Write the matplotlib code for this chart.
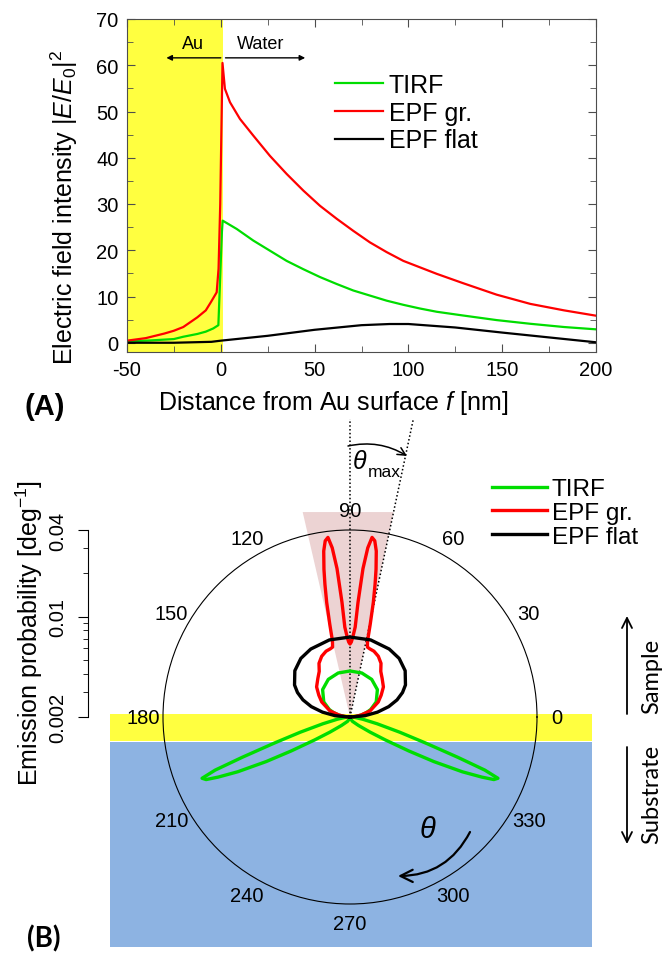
import numpy as np
import matplotlib
matplotlib.use('Agg')
import matplotlib.pyplot as plt
from matplotlib.patches import Rectangle, Polygon
from matplotlib.lines import Line2D
from matplotlib.ticker import (MultipleLocator, LogLocator, NullLocator,
                               NullFormatter, FixedLocator, FixedFormatter)

plt.rcParams['font.family'] = ['Liberation Sans', 'DejaVu Sans']
plt.rcParams['mathtext.fontset'] = 'custom'
plt.rcParams['mathtext.rm'] = 'Liberation Sans'
plt.rcParams['mathtext.it'] = 'Liberation Sans:italic'
plt.rcParams['mathtext.bf'] = 'Liberation Sans:bold'
plt.rcParams['axes.unicode_minus'] = False

# ---- (A) field intensity vs distance from the Au surface [nm]
tirf_x = [-50, -37.5, -25, -20, -12.5, -8, -4, -1.3, 0.6, 1.0, 8.5, 17.3,
          26.2, 35.1, 44, 52.9, 61.8, 70.6, 79.5, 88.4, 97.3, 106.2, 115.1,
          129, 147, 165, 183, 200]
tirf_y = [0.3, 0.5, 0.8, 1.3, 1.9, 2.4, 3.1, 3.8, 24.0, 26.4, 24.6, 22.1,
          19.9, 17.7, 15.9, 14.2, 12.7, 11.3, 10.2, 9.1, 8.2, 7.4, 6.7,
          5.9, 4.9, 4.1, 3.4, 2.9]

epfgr_x = [-50, -40, -30, -25, -20, -12.5, -8, -5.4, -2.2, -1.2, -0.3, 0.9,
           2.2, 4.9, 10.2, 17.3, 26.2, 35.1, 44, 52.9, 61.8, 70.6, 79.5,
           88.4, 97.3, 106.2, 115.1, 129, 147, 165, 183, 200]
epfgr_y = [0.45, 1.0, 2.0, 2.6, 3.4, 5.5, 7.0, 8.7, 10.9, 16.0, 30.0, 60.5,
           54.9, 52.0, 48.4, 44.8, 40.4, 36.5, 32.9, 29.6, 26.8, 24.2, 21.7,
           19.6, 17.7, 16.3, 14.9, 12.9, 10.4, 8.4, 7.0, 5.85]

epfflat_x = [-50, -25, -5, 0, 25, 50, 75, 90, 100, 125, 150, 175, 200]
epfflat_y = [0.0, 0.0, 0.2, 0.45, 1.5, 2.8, 3.8, 4.05, 4.05, 3.3, 2.2, 1.15, 0.1]

# ---- (B) angular emission probability [deg^-1], theta in degrees
tirf_th = [0, 5, 10, 15, 20, 30, 45, 60, 75, 90, 105, 120, 135, 150, 160,
           165, 170, 175, 180,
           185, 190, 194, 197, 199, 200.5, 201.5, 202.5, 203.5, 204.5, 206,
           208, 210, 213, 217, 225, 240, 255, 270,
           285, 300, 315, 323, 327, 330, 332, 334, 335.5, 336.5, 337.5,
           338.5, 339.5, 341, 343, 346, 350, 355, 360]
tirf_r = [0.00200, 0.00220, 0.00241, 0.00263, 0.00285, 0.00325, 0.00372,
          0.00401, 0.00415, 0.00418, 0.00415, 0.00401, 0.00372, 0.00325,
          0.00285, 0.00263, 0.00241, 0.00220, 0.00200,
          0.00217, 0.00246, 0.00313, 0.00460, 0.00720, 0.01262, 0.0204,
          0.0260, 0.0247, 0.0204, 0.01481, 0.00916, 0.00594, 0.00392,
          0.00299, 0.00242, 0.00217, 0.00206, 0.00200,
          0.00206, 0.00217, 0.00242, 0.00299, 0.00392, 0.00594, 0.00916,
          0.01481, 0.0204, 0.0247, 0.0260, 0.0204, 0.01262, 0.00720,
          0.00460, 0.00313, 0.00246, 0.00217, 0.00200]

epfgr_th = [0, 5, 10, 17, 28, 35, 42, 50, 56, 60, 65, 70, 74, 76, 77, 77.7,
            78.5, 79.3, 80, 81, 82, 83, 84, 85, 86, 86.7, 88, 89, 90,
            91, 92, 93.3, 94, 95, 96, 97, 98, 99, 100, 100.7, 101.5, 102.3,
            103, 104, 106, 110, 115, 120, 124, 130, 138, 145, 152, 163, 170,
            175, 180]
epfgr_r = [0.00200, 0.00217, 0.00239, 0.00280, 0.00334, 0.00368, 0.00411,
           0.00446, 0.00483, 0.00540, 0.00585, 0.00614, 0.00624, 0.00634,
           0.00698, 0.00916, 0.01303, 0.01739, 0.0221, 0.0295, 0.0346,
           0.0363, 0.0305, 0.02176, 0.01262, 0.00846, 0.00720, 0.00665,
           0.00644,
           0.00665, 0.00720, 0.00846, 0.01262, 0.02176, 0.0305, 0.0363,
           0.0346, 0.0295, 0.0221, 0.01739, 0.01303, 0.00916, 0.00698,
           0.00634, 0.00624, 0.00614, 0.00585, 0.00540, 0.00483, 0.00446,
           0.00411, 0.00368, 0.00334, 0.00280, 0.00239, 0.00217, 0.00200]

epfflat_th = [0, 5, 10, 15, 20, 25, 30, 40, 50, 60, 75, 90, 105, 120, 130,
              140, 150, 155, 160, 165, 170, 175, 180]
epfflat_r = [0.00200, 0.00254, 0.00313, 0.00380, 0.00446, 0.00506, 0.00558,
             0.00634, 0.00681, 0.00703, 0.00718, 0.00720, 0.00718, 0.00703,
             0.00681, 0.00634, 0.00558, 0.00506, 0.00446, 0.00380, 0.00313,
             0.00254, 0.00200]

theta_labels = [0, 30, 60, 90, 120, 150, 180, 210, 240, 270, 300, 330]
theta_max = 12  # deg, half opening of the collection cone

GREEN = '#00dd00'
RED = '#ff0000'
AU_YELLOW = '#ffff40'
SUB_BLUE = '#8db3e2'
CONE = '#ecd3d3'

W, H = 666, 954
fig = plt.figure(figsize=(W / 100, H / 100), dpi=100)


def fx(px):
    return px / W


def fy(py):
    return 1 - py / H


# ---------------- panel A ----------------
ax = fig.add_axes([fx(127), fy(353), 469 / W, 333 / H])
ax.axvspan(-50, 1, color=AU_YELLOW, lw=0, zorder=0)
ax.plot(tirf_x, tirf_y, color=GREEN, lw=1.6, label='TIRF')
ax.plot(epfgr_x, epfgr_y, color=RED, lw=1.6, label='EPF gr.')
ax.plot(epfflat_x, epfflat_y, color='black', lw=1.6, label='EPF flat')
ax.set_xlim(-50, 200)
ax.set_ylim(-2, 70)
ax.xaxis.set_major_locator(MultipleLocator(50))
ax.xaxis.set_minor_locator(MultipleLocator(25))
ax.yaxis.set_major_locator(MultipleLocator(10))
ax.yaxis.set_minor_locator(MultipleLocator(5))
ax.tick_params(which='both', direction='in', top=True, right=True,
               color='#4d4d4d', labelsize=14.5, pad=6)
ax.tick_params(which='major', length=6)
ax.tick_params(which='minor', length=4)
for sp in ax.spines.values():
    sp.set_color('#4d4d4d')
ax.set_xlabel('Distance from Au surface $f$ [nm]', fontsize=18)
ax.xaxis.set_label_coords(0.5, fy(389), transform=fig.transFigure)
ax.set_ylabel('Electric field intensity |$E$/$E_0$|$^2$', fontsize=18)
ax.yaxis.set_label_coords(fx(80), fy(207), transform=fig.transFigure)

ax.annotate('', xy=(-29, 61.6), xytext=(0, 61.6),
            arrowprops=dict(arrowstyle='-|>', lw=1, color='black',
                            mutation_scale=8, shrinkA=0, shrinkB=0))
ax.annotate('', xy=(45, 61.6), xytext=(2.5, 61.6),
            arrowprops=dict(arrowstyle='-|>', lw=1, color='black',
                            mutation_scale=8, shrinkA=0, shrinkB=0))
ax.text(-14.8, 64.6, 'Au', fontsize=13, ha='center', va='center')
ax.text(21.4, 64.6, 'Water', fontsize=13, ha='center', va='center')

ax.legend(loc='upper left', bbox_to_anchor=(fx(335), fy(74)),
          bbox_transform=fig.transFigure, frameon=False, fontsize=18,
          handlelength=1.9, handletextpad=0.25, labelspacing=0.15,
          borderpad=0, borderaxespad=0)

fig.text(fx(45), fy(407), '(A)', fontsize=21, fontweight='bold',
         ha='center', va='center')

# ---------------- panel B ----------------
axp = fig.add_axes([fx(163), fy(905), 374 / W, 374 / H], projection='polar')
axp.set_facecolor('none')

# background layers (sample side / substrate) and collection cone
axp.add_artist(Rectangle((-0.142, 0.436), 1.289, 0.072, transform=axp.transAxes,
                         color=AU_YELLOW, lw=0, clip_on=False, zorder=0.5))
axp.add_artist(Rectangle((-0.142, -0.115), 1.289, 0.548, transform=axp.transAxes,
                         color=SUB_BLUE, lw=0, clip_on=False, zorder=0.5))
top = 1.048
h = top - 0.5
axp.add_artist(Polygon([(0.5, 0.5),
                        (0.5 - h * np.tan(np.deg2rad(theta_max + 1)), top),
                        (0.5 + h * np.tan(np.deg2rad(theta_max)), top)],
                       closed=True, transform=axp.transAxes, color=CONE,
                       lw=0, clip_on=False, zorder=0.6))
ltop = 1.297
axp.add_artist(Line2D([0.5, 0.5], [0.5, ltop], transform=axp.transAxes,
                      color='black', lw=1.1, ls=(0, (1, 1.5)), clip_on=False,
                      zorder=1.5))
axp.add_artist(Line2D([0.5, 0.5 + (ltop - 0.5) * np.tan(np.deg2rad(theta_max))],
                      [0.5, ltop], transform=axp.transAxes, color='black',
                      lw=1.1, ls=(0, (1, 1.5)), clip_on=False, zorder=1.5))

axp.plot(np.deg2rad(tirf_th), tirf_r, color=GREEN, lw=2.4, label='TIRF')
axp.plot(np.deg2rad(epfgr_th), epfgr_r, color=RED, lw=2.4, label='EPF gr.')
axp.plot(np.deg2rad(epfflat_th), epfflat_r, color='black', lw=2.4,
         label='EPF flat')

axp.set_rscale('log')
axp.set_rlim(0.002, 0.04)
axp.yaxis.set_major_locator(NullLocator())
axp.yaxis.set_minor_locator(NullLocator())
axp.grid(False)
axp.set_xticks(np.deg2rad(theta_labels))
axp.set_xticklabels([str(t) for t in theta_labels])
axp.set_xticks(np.deg2rad(np.array(theta_labels) + 15), minor=True)
axp.tick_params(axis='x', which='both', direction='in', length=6, width=0.9,
                labelsize=14.5, pad=7)
axp.spines['polar'].set_linewidth(0.8)

axp.legend(loc='upper left', bbox_to_anchor=(fx(492), fy(479)),
           bbox_transform=fig.transFigure, frameon=False, fontsize=17.5,
           handlelength=2.26, handletextpad=0.2, labelspacing=0.08,
           borderpad=0, borderaxespad=0)

# radial scale drawn as a separate vertical axis on the left
axr = fig.add_axes([fx(88), fy(718), 0.001, 187 / H])
axr.set_facecolor('none')
axr.set_yscale('log')
axr.set_ylim(0.002, 0.04)
for s in ['top', 'right', 'bottom']:
    axr.spines[s].set_visible(False)
axr.set_xticks([])
axr.yaxis.set_major_locator(FixedLocator([0.002, 0.01, 0.04]))
axr.yaxis.set_major_formatter(FixedFormatter(['0.002', '0.01', '0.04']))
axr.yaxis.set_minor_locator(LogLocator(base=10, subs=np.arange(2, 10)))
axr.yaxis.set_minor_formatter(NullFormatter())
axr.tick_params(axis='y', which='major', direction='out', length=7,
                labelsize=14.5, labelrotation=90, pad=8)
axr.tick_params(axis='y', which='minor', direction='out', length=3.5)
for lab in axr.get_yticklabels():
    lab.set_va('center')
axr.set_ylabel('Emission probability [deg$^{-1}$]', fontsize=18)
axr.yaxis.set_label_coords(fx(45), fy(633), transform=fig.transFigure)


# direction annotations
def farrow(p0, p1, rad=0.0, lw=1.3, ms=18):
    axp.annotate('', xy=(p1[0], H - p1[1]), xytext=(p0[0], H - p0[1]),
                 xycoords='figure pixels', textcoords='figure pixels',
                 arrowprops=dict(arrowstyle='->', lw=lw, color='black',
                                 mutation_scale=ms, shrinkA=0, shrinkB=0,
                                 connectionstyle='arc3,rad=%g' % rad))


farrow((627, 715), (627, 617))
farrow((627, 748), (627, 845))
farrow((470, 833), (398, 877), rad=-0.3, lw=1.6, ms=22)
farrow((348, 447), (407, 457), rad=-0.2, lw=1.1, ms=14)

fig.text(fx(360), fy(462), r'$\theta$', fontsize=18, ha='center', va='center')
fig.text(fx(384), fy(473), 'max', fontsize=12.5, ha='center', va='center')
fig.text(fx(428), fy(830), r'$\theta$', fontsize=21, ha='center', va='center')

side_font = ['Lato', 'DejaVu Sans']
fig.text(fx(652), fy(676), 'Sample', rotation=90, fontsize=17,
         family=side_font, ha='center', va='center')
fig.text(fx(652), fy(794), 'Substrate', rotation=90, fontsize=17,
         family=side_font, ha='center', va='center')
fig.text(fx(44), fy(939), '(B)', fontsize=20, fontweight='bold',
         family=side_font, ha='center', va='center')

fig.savefig('out.png', dpi=100)
